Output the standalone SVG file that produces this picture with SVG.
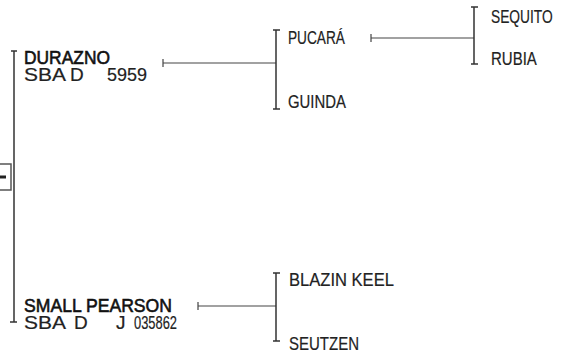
<svg xmlns="http://www.w3.org/2000/svg" width="563" height="354" viewBox="0 0 563 354">
<style>
text{font-family:"Liberation Sans",Arial,sans-serif;font-size:19px;fill:#222;stroke:#222;stroke-width:0.2}
.b{fill:#111;stroke:#111;stroke-width:0.6}
.ln{stroke:#333;stroke-width:1.5;fill:none}
.h{stroke:#444;stroke-width:1.2;fill:none}
</style>
<rect x="0" y="0" width="563" height="354" fill="#fff"/>
<g id="connectors">
<path class="ln" d="M14 51V322M11 51H17M10 322H17"/>
<path class="h" d="M163 63H276M163 59V67"/>
<path class="ln" d="M276 30V109M273 30H280M273 109H280"/>
<path class="h" d="M371 38H474M371 34V42"/>
<path class="ln" d="M474 7V64M471 7H478M471 64H478"/>
<path class="h" d="M198 306H276M198 302V310"/>
<path class="ln" d="M276 273V341M273 273H280M273 341H280"/>
</g>
<g id="root">
<rect x="-5" y="164" width="16" height="26" fill="#fff" stroke="#555" stroke-width="1.5"/>
<rect x="0" y="175.5" width="6" height="3" fill="#222"/>
</g>
<g id="durazno">
<text><tspan class="b" x="24" y="64" textLength="86" lengthAdjust="spacingAndGlyphs">DURAZNO</tspan><tspan x="24" y="81" textLength="42" lengthAdjust="spacingAndGlyphs">SBA</tspan><tspan x="70" y="81">D</tspan><tspan x="107" y="81" textLength="40" lengthAdjust="spacingAndGlyphs">5959</tspan></text>
</g>
<g id="smallpearson">
<text><tspan class="b" x="24" y="312" textLength="148" lengthAdjust="spacingAndGlyphs">SMALL PEARSON</tspan><tspan x="24" y="329" textLength="42" lengthAdjust="spacingAndGlyphs">SBA</tspan><tspan x="74" y="329">D</tspan><tspan x="116" y="329">J</tspan><tspan x="134" y="329" textLength="43" lengthAdjust="spacingAndGlyphs">035862</tspan></text>
</g>
<g id="pucara"><text transform="translate(288,44) scale(0.72,1)">PUCARÁ</text></g>
<g id="guinda"><text transform="translate(288,108) scale(0.785,1)">GUINDA</text></g>
<g id="sequito"><text transform="translate(491,23) scale(0.725,1)">SEQUITO</text></g>
<g id="rubia"><text transform="translate(491,65) scale(0.79,1)">RUBIA</text></g>
<g id="blazinkeel"><text transform="translate(289,286) scale(0.872,1)">BLAZIN KEEL</text></g>
<g id="seutzen"><text transform="translate(289,350) scale(0.79,1)">SEUTZEN</text></g>
</svg>
